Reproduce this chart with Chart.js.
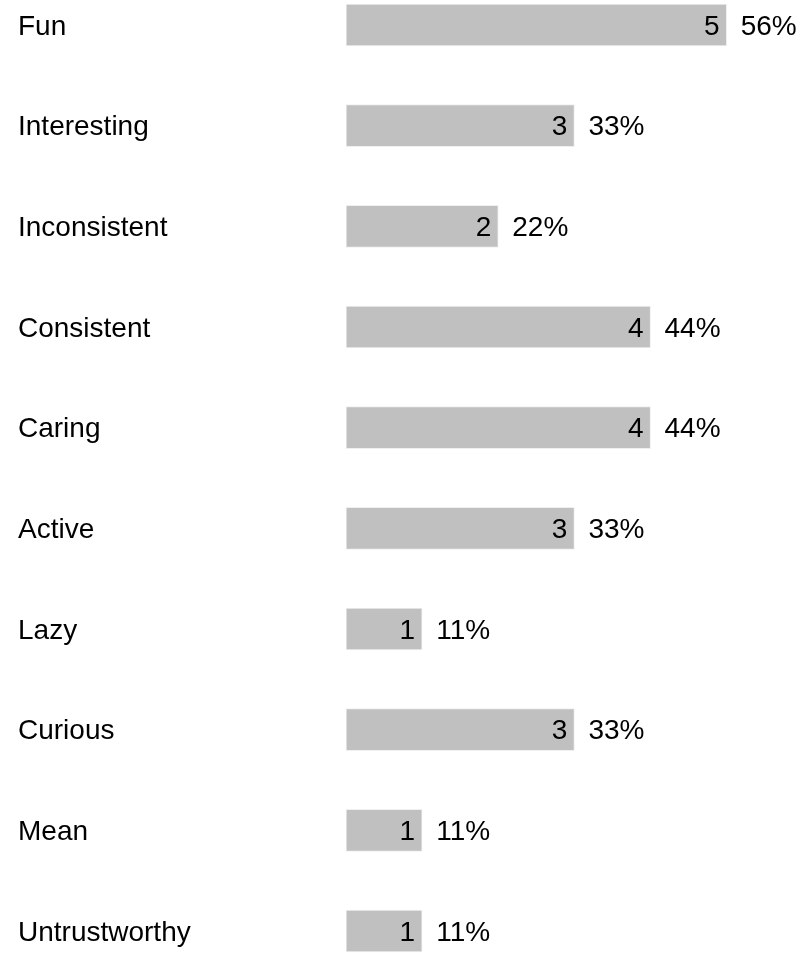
<!DOCTYPE html>
<html>
<head>
<meta charset="utf-8">
<script src="https://cdn.jsdelivr.net/npm/chart.js@4/dist/chart.umd.min.js"></script>
<style>
    html, body { margin: 0; padding: 0; background: #ffffff; }
    #wrap { width: 801px; height: 953px; position: relative; }
</style>
</head>
<body>
<div id="wrap"><canvas id="chart"></canvas></div>
<script>
const categories = ['Fun', 'Interesting', 'Inconsistent', 'Consistent', 'Caring', 'Active', 'Lazy', 'Curious', 'Mean', 'Untrustworthy'];
const counts = [5, 3, 2, 4, 4, 3, 1, 3, 1, 1];
const percents = ['56%', '33%', '22%', '44%', '44%', '33%', '11%', '33%', '11%', '11%'];

const FONT = '"Liberation Sans", Arial, Helvetica, sans-serif';

// draws the count inside the bar end and the percent just after it
const valueLabels = {
    id: 'valueLabels',
    afterDatasetsDraw(chart) {
        const ctx = chart.ctx;
        const meta = chart.getDatasetMeta(0);
        ctx.save();
        ctx.font = '28px ' + FONT;
        ctx.fillStyle = '#000000';
        ctx.textBaseline = 'middle';
        meta.data.forEach((bar, i) => {
            const y = bar.y + 2;
            ctx.textAlign = 'right';
            ctx.fillText(String(counts[i]), bar.x - 7, y);
            ctx.textAlign = 'left';
            ctx.fillText(percents[i], bar.x + 14, y);
        });
        ctx.restore();
    }
};

new Chart(document.getElementById('chart'), {
    type: 'bar',
    data: {
        labels: categories,
        datasets: [{
            data: counts,
            backgroundColor: '#c0c0c0',
            borderColor: '#efefef',
            borderWidth: 1,
            borderSkipped: false,
            barThickness: 42,
            clip: false
        }]
    },
    options: {
        indexAxis: 'y',
        responsive: true,
        maintainAspectRatio: false,
        animation: false,
        layout: { padding: { left: 18, right: 2, top: 25, bottom: 22 } },
        plugins: {
            legend: { display: false },
            tooltip: { enabled: false }
        },
        scales: {
            x: {
                display: false,
                min: 0,
                max: 5.95
            },
            y: {
                offset: false,
                grid: { display: false },
                border: { display: false },
                ticks: {
                    crossAlign: 'far',
                    labelOffset: 2,
                    color: '#000000',
                    font: { size: 28, family: FONT }
                },
                afterFit(scale) { scale.width = 328; }
            }
        }
    },
    plugins: [valueLabels]
});
</script>
</body>
</html>
